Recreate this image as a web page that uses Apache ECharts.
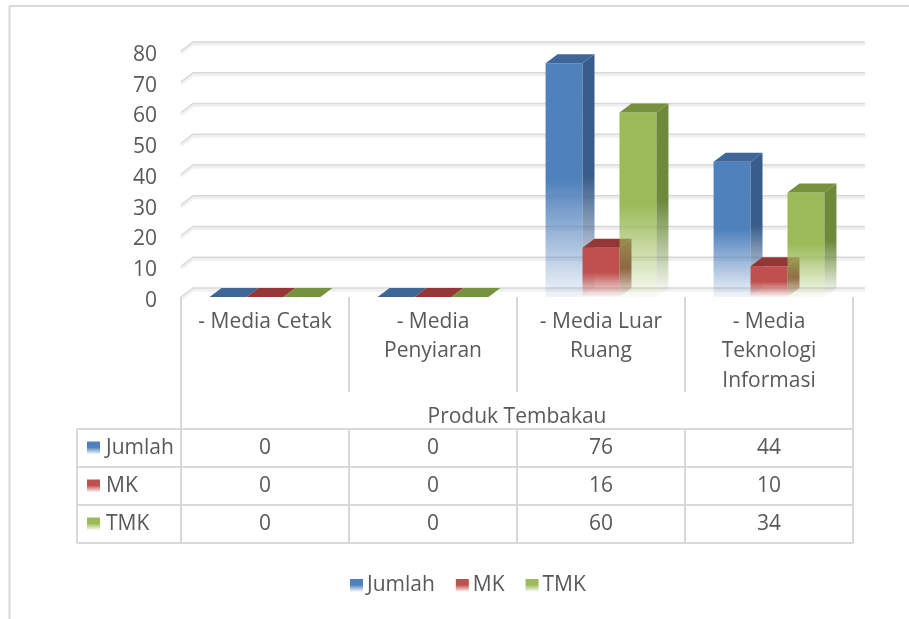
<!DOCTYPE html>
<html>
<head>
<meta charset="utf-8">
<script src="https://cdn.jsdelivr.net/npm/echarts@6/dist/echarts.min.js"></script>
<style>
  html, body { margin: 0; padding: 0; background: #fff; }
  #chart { width: 909px; height: 619px; }
</style>
</head>
<body>
<div id="chart"></div>
<script>
// 数据
const categories = ['- Media Cetak', '- Media Penyiaran', '- Media Luar Ruang', '- Media Teknologi Informasi'];
const categoryLabels = ['- Media Cetak', '- Media\nPenyiaran', '- Media Luar\nRuang', '- Media\nTeknologi\nInformasi'];
const axisName = 'Produk Tembakau';
const seriesNames = ['Jumlah', 'MK', 'TMK'];
const jumlah = [0, 0, 76, 44];
const mk = [0, 0, 16, 10];
const tmk = [0, 0, 60, 34];
const yTicks = [0, 10, 20, 30, 40, 50, 60, 70, 80];

const seriesValues = [jumlah, mk, tmk];

// 颜色：正面 / 侧面 / 顶面
const palette = [
  { front: '#4f81bd', side: '#385d8a', top: '#3e6699', fade: 'rgba(79,129,189,0.08)', sideFade: 'rgba(56,93,138,0)' },
  { front: '#c0504d', side: '#8c3836', top: '#943634', fade: 'rgba(192,80,77,0.06)', sideFade: 'rgba(140,56,54,0)' },
  { front: '#9bbb59', side: '#6c8a3a', top: '#76923c', fade: 'rgba(155,187,89,0.06)', sideFade: 'rgba(108,138,58,0)' }
];

const DX = 12, DY = 9;   // 3D 深度偏移
const FONT = 'Open Sans';
const FS = 21;
const TEXT = '#595959';
const LINE = '#d9d9d9';

function fadeGrad(c, end, mid) {
  return {
    type: 'linear', x: 0, y: 0, x2: 0, y2: 1,
    colorStops: [{ offset: 0, color: c }, { offset: mid, color: c }, { offset: 1, color: end }]
  };
}

function keyGrad(c) {
  return fadeGrad(c, '#ffffff', 0.45);
}

const chartDom = document.getElementById('chart');
const myChart = echarts.init(chartDom);

// 背景网格线（后墙 + 左侧斜线）
const wallSeries = {
  type: 'custom',
  silent: true,
  z: 1,
  data: yTicks.map(v => [0, v]),
  encode: { x: 0, y: 1 },
  renderItem(params, api) {
    const cs = params.coordSys;
    const y = api.coord([0, api.value(1)])[1];
    const x0 = cs.x, x1 = cs.x + cs.width;
    return {
      type: 'group',
      children: [
        {
          type: 'polyline',
          shape: { points: [[x0, y + 2], [x0 + DX, y - DY + 2], [x1 + DX, y - DY + 2]] },
          style: { stroke: '#f0f0f0', lineWidth: 3, fill: null }
        },
        {
          type: 'polyline',
          shape: { points: [[x0, y], [x0 + DX, y - DY], [x1 + DX, y - DY]] },
          style: { stroke: LINE, lineWidth: 1.5, fill: null }
        }
      ]
    };
  }
};

function barSeries(k) {
  const col = palette[k];
  return {
    name: seriesNames[k],
    type: 'custom',
    z: 2,
    itemStyle: { color: keyGrad(col.front) },
    data: seriesValues[k].map((v, i) => [i, v]),
    encode: { x: 0, y: 1 },
    renderItem(params, api) {
      const i = api.value(0), v = api.value(1);
      const band = api.size([1, 0])[0];
      const bw = band * 0.22;
      const cx = api.coord([i, 0])[0];
      const xl = cx - 1.5 * bw + k * bw;
      const xr = xl + bw;
      const yb = api.coord([i, 0])[1];
      const yt = api.coord([i, v])[1];
      const children = [];
      if (v > 0) {
        children.push({
          type: 'rect',
          shape: { x: xl, y: yt, width: bw, height: yb - yt },
          style: { fill: fadeGrad(col.front, col.fade, 0.5) }
        });
        children.push({
          type: 'polygon',
          shape: { points: [[xr, yt], [xr + DX, yt - DY], [xr + DX, yb - DY], [xr, yb]] },
          style: { fill: fadeGrad(col.side, col.sideFade, 0.5) }
        });
      }
      children.push({
        type: 'polygon',
        shape: { points: [[xl, yt], [xl + DX, yt - DY], [xr + DX, yt - DY], [xr, yt]] },
        style: { fill: col.top }
      });
      return { type: 'group', children };
    }
  };
}

// 数据表
const tableSeries = {
  type: 'custom',
  silent: true,
  z: 3,
  data: [[0, 0]],
  encode: { x: 0, y: 1 },
  renderItem(params, api) {
    const cs = params.coordSys;
    const x0 = cs.x, x1 = cs.x + cs.width;
    const yBase = api.coord([0, 0])[1];
    const tTop = yBase + 132;
    const rowH = 38;
    const tLeft = x0 - 104;
    const band = api.size([1, 0])[0];
    const font = FS + 'px "' + FONT + '"';
    const children = [];
    const line = (ax, ay, bx, by) => children.push({
      type: 'line',
      shape: { x1: ax, y1: ay, x2: bx, y2: by },
      style: { stroke: LINE, lineWidth: 2 }
    });
    for (let r = 0; r <= seriesNames.length; r++) {
      line(tLeft, tTop + r * rowH, x1, tTop + r * rowH);
    }
    line(tLeft, tTop, tLeft, tTop + 3 * rowH);
    line(x0, yBase, x0, tTop + 3 * rowH);
    line(x1, yBase, x1, tTop + 3 * rowH);
    for (let c = 1; c < categories.length; c++) {
      const xb = api.coord([c, 0])[0] - band / 2;
      line(xb, tTop, xb, tTop + 3 * rowH);
    }
    seriesNames.forEach((name, r) => {
      const yc = tTop + r * rowH + rowH / 2;
      children.push({
        type: 'rect',
        shape: { x: tLeft + 10, y: yc - 6.5, width: 13, height: 13 },
        style: { fill: keyGrad(palette[r].front) }
      });
      children.push({
        type: 'text',
        style: { text: name, x: tLeft + 29, y: yc, fill: TEXT, font: font, verticalAlign: 'middle', align: 'left' }
      });
      seriesValues[r].forEach((v, c) => {
        children.push({
          type: 'text',
          style: { text: String(v), x: api.coord([c, 0])[0], y: yc, fill: TEXT, font: font, verticalAlign: 'middle', align: 'center' }
        });
      });
    });
    return { type: 'group', children };
  }
};

const option = {
  animation: false,
  textStyle: { fontFamily: FONT },
  grid: { left: 181, right: 56, top: 51, bottom: 322, containLabel: false },
  legend: {
    data: seriesNames,
    left: 350,
    top: 575,
    padding: 0,
    icon: 'rect',
    itemWidth: 13,
    itemHeight: 13,
    itemGap: 21,
    textStyle: { fontSize: FS, color: TEXT, fontFamily: FONT, padding: [0, 0, 0, -1] },
    selectedMode: false
  },
  xAxis: {
    type: 'category',
    data: categories,
    name: axisName,
    nameLocation: 'middle',
    nameGap: 110,
    nameTextStyle: { fontSize: FS, color: TEXT, fontFamily: FONT },
    axisLine: { show: false },
    axisTick: { show: true, length: 95, lineStyle: { color: LINE, width: 2 } },
    axisLabel: {
      interval: 0,
      fontSize: FS,
      color: TEXT,
      lineHeight: 29.5,
      margin: 10,
      formatter: (val, idx) => categoryLabels[idx]
    },
    splitLine: { show: false }
  },
  yAxis: {
    type: 'value',
    min: 0,
    max: 80,
    interval: 10,
    axisLine: { show: false },
    axisTick: { show: false },
    splitLine: { show: false },
    axisLabel: {
      margin: 24,
      formatter: '{v|{value}}',
      rich: { v: { fontSize: FS, color: TEXT, fontFamily: FONT, padding: [8, 0, 0, 0] } }
    }
  },
  graphic: [
    { type: 'line', shape: { x1: 9, y1: 6, x2: 909, y2: 6 }, style: { stroke: LINE, lineWidth: 2 } },
    { type: 'line', shape: { x1: 9.5, y1: 6, x2: 9.5, y2: 619 }, style: { stroke: LINE, lineWidth: 2 } }
  ],
  series: [wallSeries, barSeries(0), barSeries(1), barSeries(2), tableSeries]
};

myChart.setOption(option);
</script>
</body>
</html>
